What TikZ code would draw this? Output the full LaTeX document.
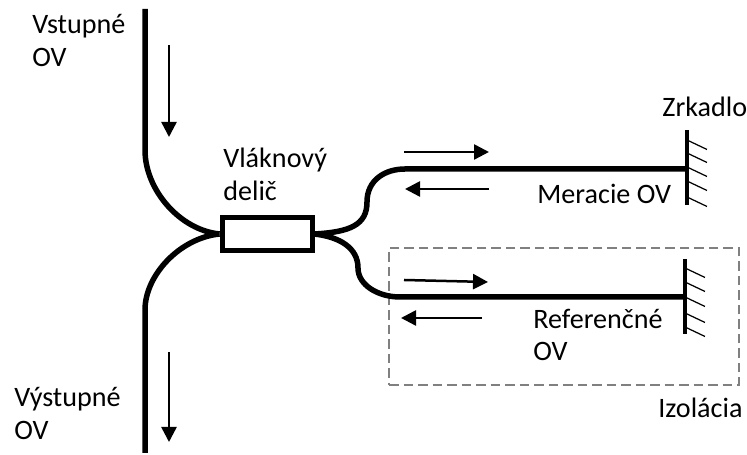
\documentclass[tikz,border=0pt]{standalone}
\usepackage{fontspec}
\setmainfont{Carlito}
\usetikzlibrary{arrows.meta}
\definecolor{sivaIzol}{RGB}{128, 128, 128}
\tikzset{
    lbl/.style={anchor=west, align=left, inner sep=0pt, font=\fontsize{16}{18.7}\selectfont},
    delic/.style={draw, rectangle, line width=0.1cm, fill=white, minimum width=1.8cm, minimum height=0.66cm, inner sep=0pt},
    fiber/.style={-, black, line width=0.11cm},
    mirror/.style={-, black, line width=0.08cm},
    hatch/.style={-, black, line width=0.7pt},
    sipka/.style={-{Triangle[length=0.3cm, width=0.3cm]}, black, line width=0.05cm},
    izol/.style={draw=sivaIzol, dash pattern=on 0.19cm off 0.1cm, line width=0.04cm, rectangle, minimum width=7cm, minimum height=2.74cm},
}
\begin{document}
\begin{tikzpicture}
        \useasboundingbox (0,0) rectangle (14.94,9.1);

        \node [izol] (iso) at (11.28,2.77) {};

        \node [lbl] (txt1) at (0.64,8.29) {Vstupné\\OV};
        \node [lbl] (txt2) at (0.28,0.83) {Výstupné\\OV};
        \node [lbl] (txt3) at (4.46,5.62) {Vláknový\\delič};
        \node [lbl] (txt4) at (13.24,6.96) {Zrkadlo};
        \node [lbl] (txt5) at (10.74,5.22) {Meracie OV};
        \node [lbl] (txt6) at (10.66,2.4) {Referenčné\\OV};
        \node [lbl] (txt7) at (13.16,0.94) {Izolácia};

        \node [delic] (split) at (5.34,4.42) {};

        \coordinate (inTop) at (2.9,8.92);
        \coordinate (inBend) at (2.9,6.1);
        \coordinate (outBot) at (2.9,0.04);
        \coordinate (outBend) at (2.9,2.9);
        \coordinate (merS) at (8.1,5.72);
        \coordinate (merE) at (13.74,5.72);
        \coordinate (refS) at (8,3.16);
        \coordinate (refE) at (13.7,3.16);

        \draw [fiber] (inTop) -- (inBend) .. controls (2.9,5.3) and (3.6,4.5) .. (split.west);
        \draw [fiber] (outBot) -- (outBend) .. controls (2.9,3.6) and (3.6,4.34) .. (split.west);
        \draw [fiber] (split.east) .. controls (7.0,4.46) and (7.34,4.6) .. (7.34,5.06)
            .. controls (7.34,5.5) and (7.7,5.72) .. (merS) -- (merE);
        \draw [fiber] (split.east) .. controls (6.8,4.36) and (7.16,4.14) .. (7.16,3.74)
            .. controls (7.16,3.4) and (7.56,3.16) .. (refS) -- (refE);

        \coordinate (m1a) at (13.74,6.5);
        \coordinate (m1b) at (13.74,5.0);
        \coordinate (m2a) at (13.7,3.92);
        \coordinate (m2b) at (13.7,2.42);
        \draw [mirror] (m1a) -- (m1b);
        \draw [mirror] (m2a) -- (m2b);
        \foreach \y [count=\i] in {6.3,6.04,5.76,5.48,5.16} {
            \coordinate (ha\i) at (13.74,\y);
            \draw [hatch] (ha\i) -- ++(0.4,-0.19);
        }
        \foreach \y [count=\i] in {3.74,3.46,3.16,2.84,2.56} {
            \coordinate (hb\i) at (13.7,\y);
            \draw [hatch] (hb\i) -- ++(0.4,-0.19);
        }

        \coordinate (s1a) at (3.38,8.2);
        \coordinate (s1b) at (3.38,6.36);
        \coordinate (s2a) at (3.38,2.06);
        \coordinate (s2b) at (3.38,0.26);
        \coordinate (s3a) at (8.08,6.06);
        \coordinate (s3b) at (9.78,6.06);
        \coordinate (s4a) at (9.78,5.32);
        \coordinate (s4b) at (8.1,5.32);
        \coordinate (s5a) at (8.08,3.5);
        \coordinate (s5b) at (9.76,3.46);
        \coordinate (s6a) at (9.64,2.74);
        \coordinate (s6b) at (8.02,2.74);
        \draw [sipka] (s1a) -- (s1b);
        \draw [sipka] (s2a) -- (s2b);
        \draw [sipka] (s3a) -- (s3b);
        \draw [sipka] (s4a) -- (s4b);
        \draw [sipka] (s5a) -- (s5b);
        \draw [sipka] (s6a) -- (s6b);
    \end{tikzpicture}
\end{document}
